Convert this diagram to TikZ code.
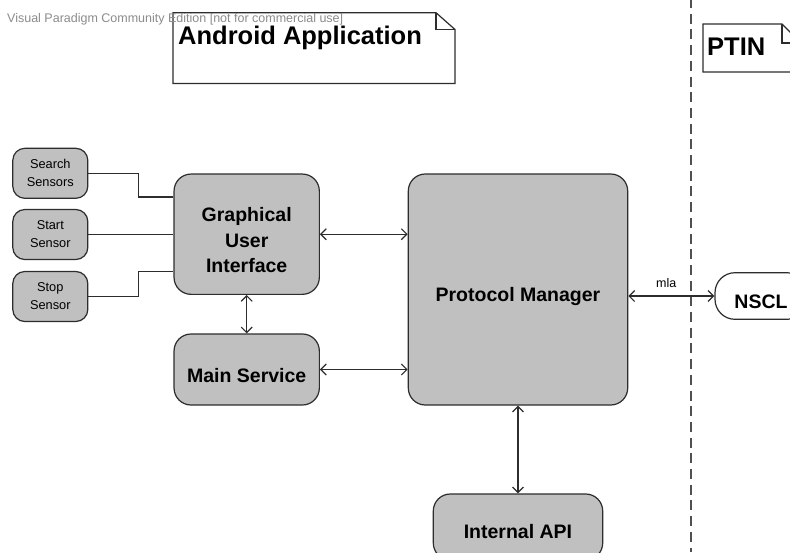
\documentclass[tikz,border=0pt]{standalone}
\usepackage{fontspec}
\setmainfont{Liberation Sans}
\usetikzlibrary{arrows.meta,calc}

\definecolor{boxfill}{RGB}{192,192,192}
\definecolor{edge}{RGB}{45,45,45}
\definecolor{wmark}{RGB}{140,140,140}
\definecolor{dashc}{RGB}{80,80,80}

\tikzset{
  shapebox/.style={draw=edge, fill=boxfill, line width=1.2pt, rectangle,
    inner sep=0pt},
  smallbox/.style={shapebox, rounded corners=12pt, minimum width=75pt,
    minimum height=50pt, font=\fontsize{12.8}{18}\selectfont, align=center},
  bigbox/.style={shapebox, rounded corners=17pt},
  bigtext/.style={font=\fontsize{19.5}{25.5}\selectfont\bfseries, align=center,
    inner sep=0pt},
  notetext/.style={font=\fontsize{25.5}{30}\selectfont\bfseries, inner sep=0pt,
    anchor=base west},
  notepath/.style={draw=edge, fill=white, line width=1.2pt},
  wire/.style={draw=edge, line width=1.2pt},
  conn/.style={wire, >={Straight Barb[length=5.5pt,width=11pt]}, <->},
}

\begin{document}
\begin{tikzpicture}[x=1pt, y=-1pt]
  \clip (0,0) rectangle (790,552);
  \fill[white] (0,0) rectangle (790,552);

  % boundary between the two systems
  \draw[dashc, line width=1.2pt, dash pattern=on 10pt off 5.7pt] (691,-2) -- (691,552);

  % package notes
  \draw[notepath] (173,12.7) -- (436,12.7) -- (455,29.5) -- (455,83.5)
    -- (173,83.5) -- cycle;
  \draw[notepath, fill=none] (436,12.7) -- (436,29.5) -- (455,29.5);
  \node[notetext] (android) at (178,44) {Android Application};

  \draw[notepath] (703,24) -- (782,24) -- (801,43) -- (801,72)
    -- (703,72) -- cycle;
  \draw[notepath, fill=none] (782,24) -- (782,43) -- (801,43);
  \node[notetext] (ptin) at (707,55.5) {PTIN};

  \node[anchor=base west, inner sep=0pt, text=wmark,
        font=\fontsize{12.5}{14}\selectfont] (wm) at (7,22)
    {Visual Paradigm Community Edition [not for commercial use]};

  % user actions
  \node[smallbox] (search) at (50.3,173.3) {Search\\Sensors};
  \node[smallbox] (start)  at (50.3,234.5) {Start\\Sensor};
  \node[smallbox] (stop)   at (50.3,296.5) {Stop\\Sensor};

  % components
  \node[bigbox, minimum width=145.3pt, minimum height=120.3pt] (gui) at (246.7,234.2) {};
  \node[bigtext] (guit) at ([yshift=-6pt]gui.center) {Graphical\\User\\Interface};

  \node[bigbox, minimum width=145.3pt, minimum height=71pt] (main) at (246.7,369.5) {};
  \node[bigtext] (maint) at ([yshift=-6.5pt]main.center) {Main Service};

  \node[bigbox, minimum width=219.4pt, minimum height=231pt] (pm) at (518,289.5) {};
  \node[bigtext] (pmt) at ([yshift=-7pt]pm.center) {Protocol Manager};

  \node[bigbox, minimum width=169.4pt, minimum height=66pt] (api) at (518,527) {};
  \node[bigtext] (apit) at ([yshift=-5pt]api.center) {Internal API};

  \node[bigbox, fill=white, rounded corners=20pt, minimum width=92pt,
        minimum height=46.6pt] (nscl) at (761,296) {};
  \node[bigtext] (nsclt) at ([yshift=-5.5pt]nscl.center) {NSCL};

  % wiring of the user actions
  \draw[wire] (search.east) -- ++(49.7,0) |- ([yshift=37.2pt]gui.west);
  \draw[wire] (start.east) -- (start.east -| gui.west);
  \draw[wire] (stop.east) -- ++(49.7,0) |- ([yshift=-37.5pt]gui.west);

  % component links
  \draw[conn] (gui.east) -- (gui.east -| pm.west);
  \draw[conn] (main.east) -- (main.east -| pm.west);
  \draw[conn] (gui.south) -- (main.north);
  \draw[conn] (pm.south) -- (api.north);
  \draw[conn] (nscl.west -| pm.east) -- (nscl.west)
    node[pos=0.44, above, yshift=8pt, inner sep=0pt,
         font=\fontsize{12.5}{14}\selectfont] (mla) {mla};
\end{tikzpicture}
\end{document}
